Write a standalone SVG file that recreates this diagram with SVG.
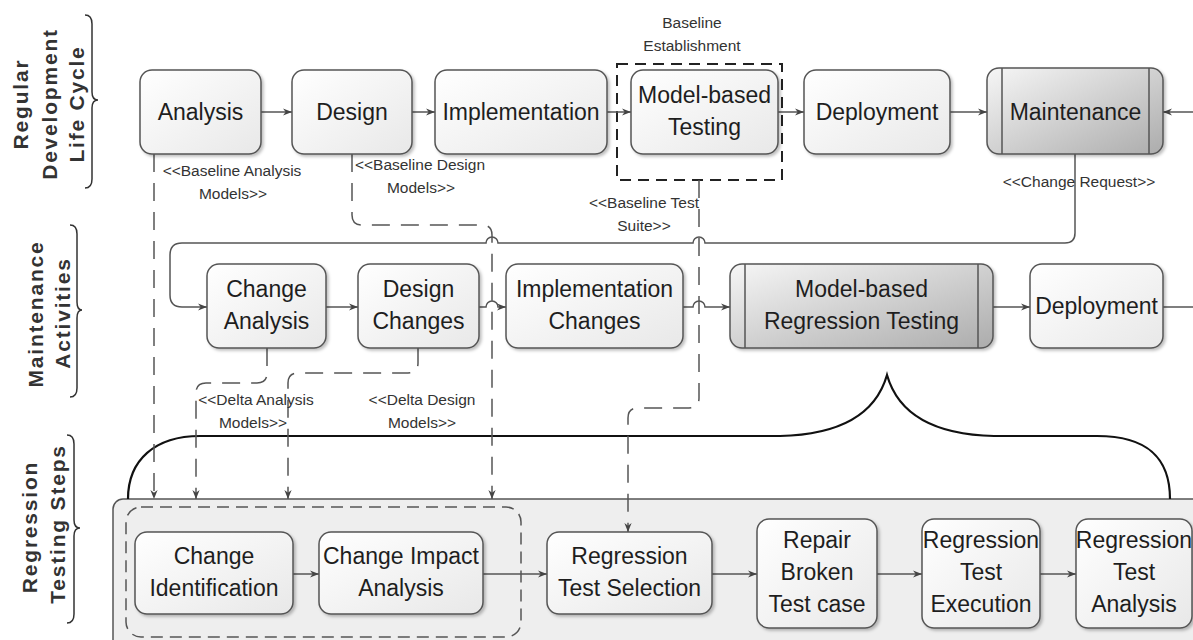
<svg xmlns="http://www.w3.org/2000/svg" width="1193" height="640" viewBox="0 0 1193 640">
<defs>
<style>
.node{stroke:#555;stroke-width:1.5;fill:url(#gw);filter:url(#sh)}
.gray{stroke:#555;stroke-width:1.5;fill:url(#gg);filter:url(#sh)}
.t{font-family:"Liberation Sans",Arial,sans-serif;font-size:23px;fill:#1e1e1e;text-anchor:middle}
.lbl{font-family:"Liberation Sans",Arial,sans-serif;font-size:15.5px;fill:#333;text-anchor:middle}
.side{font-family:"Liberation Sans",Arial,sans-serif;font-size:21px;font-weight:bold;fill:#333;text-anchor:middle;letter-spacing:1.8px}
.c{fill:none;stroke:#555;stroke-width:1.5}
.d{fill:none;stroke:#555;stroke-width:1.5;stroke-dasharray:18 11}
.br{fill:none;stroke:#333;stroke-width:1.5}
</style>
<linearGradient id="gw" x1="0" y1="0" x2="1" y2="1"><stop offset="0" stop-color="#ffffff"/><stop offset="1" stop-color="#e8e8e8"/></linearGradient>
<linearGradient id="gg" x1="0" y1="0" x2="1" y2="1"><stop offset="0" stop-color="#f6f6f6"/><stop offset="1" stop-color="#acacac"/></linearGradient>
<filter id="sh" x="-10%" y="-10%" width="120%" height="130%"><feDropShadow dx="2" dy="2" stdDeviation="1.5" flood-color="#000" flood-opacity="0.25"/></filter>
<marker id="ah" viewBox="0 0 10 10" refX="10" refY="5" markerWidth="9" markerHeight="9" markerUnits="userSpaceOnUse" orient="auto"><path d="M0,1 L10,5 L0,9 L3,5 z" fill="#444"/></marker>
</defs>
<rect width="1193" height="640" fill="#ffffff"/>

<!-- side labels -->
<g id="side-labels">
<text class="side" x="28" y="104" transform="rotate(-90 28 104)">Regular</text>
<text class="side" x="57" y="104" transform="rotate(-90 57 104)">Development</text>
<text class="side" x="84" y="104" transform="rotate(-90 84 104)">Life Cycle</text>
<path class="br" d="M85 15 Q92 15 92 24 V92 Q92 100 98 100 Q92 100 92 108 V179 Q92 188 85 188"/>
<text class="side" x="43" y="314" transform="rotate(-90 43 314)">Maintenance</text>
<text class="side" x="70" y="313" transform="rotate(-90 70 313)">Activities</text>
<path class="br" d="M70 225 Q77 225 77 234 V302 Q77 310 82 310 Q77 310 77 318 V388 Q77 397 70 397"/>
<text class="side" x="37" y="527" transform="rotate(-90 37 527)">Regression</text>
<text class="side" x="65" y="524" transform="rotate(-90 65 524)">Testing Steps</text>
<path class="br" d="M67 435 Q74 435 74 444 V520 Q74 528 80 528 Q74 528 74 536 V614 Q74 623 67 623"/>
</g>

<!-- regression container -->
<g id="regression-container">
<rect x="113" y="499" width="1100" height="170" rx="10" fill="#eeeeee" stroke="#555" stroke-width="1.5"/>
<rect x="126" y="507" width="395" height="130" rx="15" fill="none" stroke="#555" stroke-width="1.5" stroke-dasharray="12 7"/>
<path fill="none" stroke="#111" stroke-width="2.2" d="M128 499 C128 460 155 436 200 436 H780 Q870 434 887 375 Q904 434 994 436 H1097 C1150 436 1170 460 1170 499"/>
</g>

<!-- baseline establishment -->
<g id="baseline-establishment">
<rect x="617" y="64" width="165" height="116" fill="none" stroke="#222" stroke-width="2" stroke-dasharray="11 7"/>
<text class="lbl" x="692" y="28">Baseline</text>
<text class="lbl" x="692" y="51">Establishment</text>
</g>

<!-- connectors -->
<g id="connectors">
<path class="c" marker-end="url(#ah)" d="M261 112 H292"/>
<path class="c" marker-end="url(#ah)" d="M412 112 H435"/>
<path class="c" marker-end="url(#ah)" d="M607 112 H631"/>
<path class="c" marker-end="url(#ah)" d="M778 112 H804"/>
<path class="c" marker-end="url(#ah)" d="M950 112 H987"/>
<path class="c" marker-end="url(#ah)" d="M1193 112 H1163"/>
<path class="c" marker-end="url(#ah)" d="M1075 154 V233 Q1075 243 1065 243 H705 A6 6 0 0 0 693 243 H498 A6 6 0 0 0 486 243 H182 Q170 243 170 255 V295 Q170 307 182 307 H207"/>
<path class="c" marker-end="url(#ah)" d="M326 307 H358"/>
<path class="c" marker-end="url(#ah)" d="M479 307 H486 A6 6 0 0 1 498 307 H506"/>
<path class="c" marker-end="url(#ah)" d="M683 307 H693 A6 6 0 0 1 705 307 H730"/>
<path class="c" marker-end="url(#ah)" d="M993 307 H1030"/>
<path class="c" d="M1163 307 H1193"/>
<path class="c" marker-end="url(#ah)" d="M293 574 H319"/>
<path class="c" marker-end="url(#ah)" d="M483 574 H547"/>
<path class="c" marker-end="url(#ah)" d="M712 574 H757"/>
<path class="c" marker-end="url(#ah)" d="M877 574 H922"/>
<path class="c" marker-end="url(#ah)" d="M1040 574 H1076"/>
<path class="d" marker-end="url(#ah)" d="M154 154 V499"/>
<path class="d" marker-end="url(#ah)" d="M352 154 V215 Q352 225 362 225 H482 Q492 225 492 235 V499"/>
<path class="d" marker-end="url(#ah)" d="M699 180 V398 Q699 408 689 408 H638 Q628 408 628 418 V532"/>
<path class="d" marker-end="url(#ah)" d="M267 348 V373 Q267 383 257 383 H206 Q196 383 196 393 V499"/>
<path class="d" marker-end="url(#ah)" d="M418 348 V363 Q418 373 408 373 H298 Q288 373 288 383 V499"/>
<text class="lbl" x="232" y="176">&lt;&lt;Baseline Analysis</text>
<text class="lbl" x="233" y="199">Models&gt;&gt;</text>
<text class="lbl" x="420" y="170">&lt;&lt;Baseline Design</text>
<text class="lbl" x="421" y="193">Models&gt;&gt;</text>
<text class="lbl" x="644" y="208">&lt;&lt;Baseline Test</text>
<text class="lbl" x="644" y="231">Suite&gt;&gt;</text>
<text class="lbl" x="1079" y="187">&lt;&lt;Change Request&gt;&gt;</text>
<text class="lbl" x="256" y="405">&lt;&lt;Delta Analysis</text>
<text class="lbl" x="253" y="428">Models&gt;&gt;</text>
<text class="lbl" x="422" y="405">&lt;&lt;Delta Design</text>
<text class="lbl" x="422" y="428">Models&gt;&gt;</text>
</g>

<!-- top row -->
<g id="analysis"><rect class="node" x="140" y="70" width="121" height="84" rx="12"/><text class="t" x="200.5" y="120">Analysis</text></g>
<g id="design"><rect class="node" x="292" y="70" width="120" height="84" rx="12"/><text class="t" x="352" y="120">Design</text></g>
<g id="implementation"><rect class="node" x="435" y="70" width="172" height="84" rx="12"/><text class="t" x="521" y="120">Implementation</text></g>
<g id="model-based-testing"><rect class="node" x="631" y="70" width="147" height="84" rx="12"/><text class="t" x="704.5" y="103">Model-based</text><text class="t" x="704.5" y="135">Testing</text></g>
<g id="deployment"><rect class="node" x="804" y="70" width="146" height="84" rx="12"/><text class="t" x="877" y="120">Deployment</text></g>
<g id="maintenance"><rect class="gray" x="987" y="68" width="176" height="86" rx="12"/><path class="c" d="M1002 68 V154 M1149 68 V154"/><text class="t" x="1075.5" y="120">Maintenance</text></g>

<!-- middle row -->
<g id="change-analysis"><rect class="node" x="207" y="264" width="119" height="84" rx="12"/><text class="t" x="266.5" y="297">Change</text><text class="t" x="266.5" y="329">Analysis</text></g>
<g id="design-changes"><rect class="node" x="358" y="264" width="121" height="84" rx="12"/><text class="t" x="418.5" y="297">Design</text><text class="t" x="418.5" y="329">Changes</text></g>
<g id="implementation-changes"><rect class="node" x="506" y="264" width="177" height="84" rx="12"/><text class="t" x="594.5" y="297">Implementation</text><text class="t" x="594.5" y="329">Changes</text></g>
<g id="model-based-regression-testing"><rect class="gray" x="730" y="264" width="263" height="84" rx="12"/><path class="c" d="M745 264 V348 M978 264 V348"/><text class="t" x="861.5" y="297">Model-based</text><text class="t" x="861.5" y="329">Regression Testing</text></g>
<g id="deployment-2"><rect class="node" x="1030" y="264" width="133" height="84" rx="12"/><text class="t" x="1096.5" y="314">Deployment</text></g>

<!-- bottom row -->
<g id="change-identification"><rect class="node" x="135" y="532" width="158" height="82" rx="12"/><text class="t" x="214" y="564">Change</text><text class="t" x="214" y="596">Identification</text></g>
<g id="change-impact-analysis"><rect class="node" x="319" y="532" width="164" height="82" rx="12"/><text class="t" x="401" y="564">Change Impact</text><text class="t" x="401" y="596">Analysis</text></g>
<g id="regression-test-selection"><rect class="node" x="547" y="532" width="165" height="82" rx="12"/><text class="t" x="629.5" y="564">Regression</text><text class="t" x="629.5" y="596">Test Selection</text></g>
<g id="repair-broken-test-case"><rect class="node" x="757" y="519" width="120" height="109" rx="12"/><text class="t" x="817" y="548">Repair</text><text class="t" x="817" y="580">Broken</text><text class="t" x="817" y="612">Test case</text></g>
<g id="regression-test-execution"><rect class="node" x="922" y="519" width="118" height="109" rx="12"/><text class="t" x="981" y="548">Regression</text><text class="t" x="981" y="580">Test</text><text class="t" x="981" y="612">Execution</text></g>
<g id="regression-test-analysis"><rect class="node" x="1076" y="519" width="116" height="109" rx="12"/><text class="t" x="1134" y="548">Regression</text><text class="t" x="1134" y="580">Test</text><text class="t" x="1134" y="612">Analysis</text></g>
</svg>
